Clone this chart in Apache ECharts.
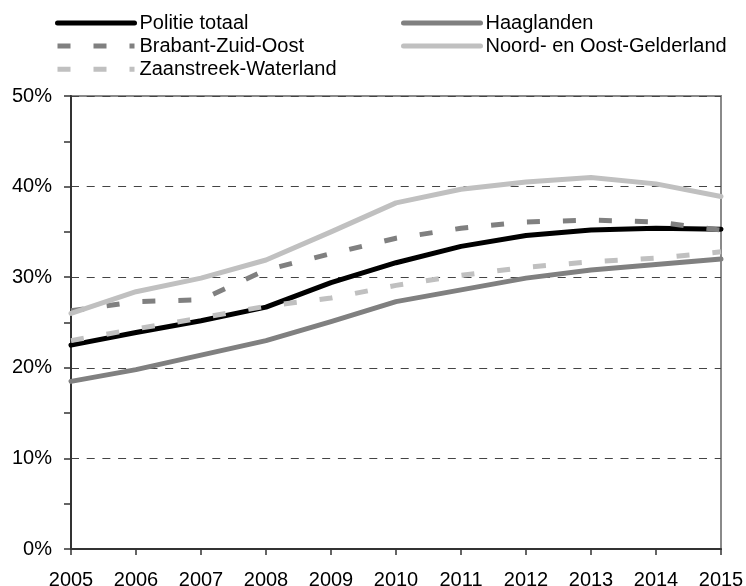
<!DOCTYPE html>
<html>
<head>
<meta charset="utf-8">
<script src="https://cdn.jsdelivr.net/npm/echarts@6/dist/echarts.min.js"></script>
<style>html,body{margin:0;padding:0;background:#fff;}#c{width:746px;height:586px;}</style>
</head>
<body>
<div id="c"></div>
<script>
var years = ['2005','2006','2007','2008','2009','2010','2011','2012','2013','2014','2015'];
var politieTotaal = [22.5, 23.9, 25.2, 26.7, 29.4, 31.6, 33.4, 34.6, 35.2, 35.4, 35.3];
var haaglanden = [18.5, 19.8, 21.4, 23.0, 25.1, 27.3, 28.6, 29.9, 30.8, 31.4, 32.0];
var brabantZuidOost = [26.3, 27.3, 27.5, 30.8, 32.6, 34.3, 35.4, 36.1, 36.3, 36.1, 35.2];
var noordOostGelderland = [26.0, 28.4, 29.9, 31.9, 35.0, 38.2, 39.7, 40.5, 41.0, 40.3, 38.9];
var zaanstreekWaterland = [23.0, 24.3, 25.5, 26.8, 27.7, 29.1, 30.2, 31.1, 31.7, 32.1, 32.8];
var yTicks = [0, 10, 20, 30, 40, 50];

var font = 'Liberation Sans, Arial, sans-serif';
function mk(name, data, color, dashed) {
  return {
    name: name, type: 'line', data: data, symbol: 'none', smooth: false,
    lineStyle: { color: color, width: 5, type: dashed ? [13, 23] : 'solid', cap: dashed ? 'butt' : 'round', join: 'round' },
    itemStyle: { color: color }
  };
}
var legendCommon = {
  orient: 'vertical', top: 13, padding: 0,
  itemWidth: 77, itemHeight: 14, itemGap: 3.1,
  itemStyle: { color: 'transparent', borderColor: 'transparent', borderWidth: 0, opacity: 0 },
  lineStyle: { width: 5, type: 'inherit', cap: 'inherit' },
  textStyle: { fontFamily: font, fontSize: 20, color: '#000' }
};
var chart = echarts.init(document.getElementById('c'), null, { renderer: 'canvas' });
chart.setOption({
  animation: false,
  backgroundColor: '#fff',
  textStyle: { fontFamily: font },
  legend: [
    Object.assign({}, legendCommon, { data: ['Politie totaal', 'Brabant-Zuid-Oost', 'Zaanstreek-Waterland'], left: 55 }),
    Object.assign({}, legendCommon, { data: ['Haaglanden', 'Noord- en Oost-Gelderland'], left: 401 })
  ],
  grid: { left: 71, right: 25, top: 96, bottom: 37, show: true, outerBoundsMode: 'none', containLabel: false, borderColor: '#8a8a8a', borderWidth: 2, backgroundColor: 'transparent' },
  xAxis: {
    type: 'category', data: years, boundaryGap: false,
    axisLine: { lineStyle: { color: '#333', width: 2 } },
    axisTick: { show: true, length: 6, alignWithLabel: true, lineStyle: { color: '#333', width: 1.5 } },
    axisLabel: { fontFamily: font, fontSize: 20, color: '#000', margin: 21, interval: 0 },
    splitLine: { show: false }
  },
  yAxis: {
    type: 'value', min: yTicks[0], max: yTicks[yTicks.length - 1], interval: 10,
    axisLine: { show: true, lineStyle: { color: '#333', width: 2 } },
    axisTick: { show: true, length: 7, lineStyle: { color: '#333', width: 1.5 } },
    minorTick: { show: true, splitNumber: 2, length: 7, lineStyle: { color: '#333', width: 1.5 } },
    axisLabel: { fontFamily: font, fontSize: 20, color: '#000', margin: 19, formatter: '{value}%' },
    splitLine: { show: true, lineStyle: { color: '#444', width: 1, type: [8, 7.7] } }
  },
  series: [
    mk('Politie totaal', politieTotaal, '#000000', false),
    mk('Haaglanden', haaglanden, '#808080', false),
    mk('Brabant-Zuid-Oost', brabantZuidOost, '#808080', true),
    mk('Noord- en Oost-Gelderland', noordOostGelderland, '#c0c0c0', false),
    mk('Zaanstreek-Waterland', zaanstreekWaterland, '#c0c0c0', true)
  ]
});
</script>
</body>
</html>
